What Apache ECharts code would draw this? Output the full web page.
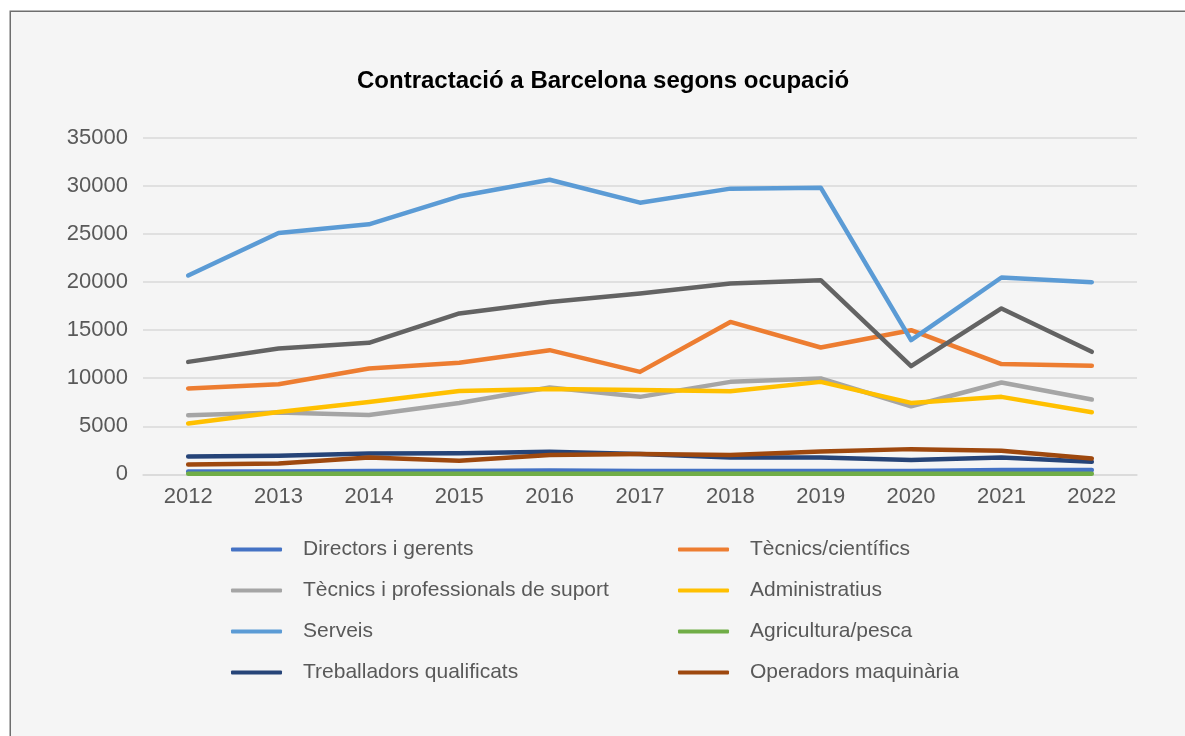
<!DOCTYPE html>
<html>
<head>
<meta charset="utf-8">
<script src="https://cdn.jsdelivr.net/npm/echarts@6/dist/echarts.min.js"></script>
<style>
html,body{margin:0;padding:0;background:#fff;}
#chart{width:1185px;height:736px;}
</style>
</head>
<body>
<div id="chart"></div>
<script>
const years = ['2012','2013','2014','2015','2016','2017','2018','2019','2020','2021','2022'];
const yTicks = [0, 5000, 10000, 15000, 20000, 25000, 30000, 35000];

const directors = [300, 300, 350, 350, 400, 350, 350, 350, 350, 450, 450];
const tecnicsCientifics = [8930, 9380, 11010, 11600, 12920, 10660, 15860, 13200, 15000, 11470, 11290];
const tecnicsSuport = [6150, 6420, 6180, 7430, 9030, 8060, 9620, 9970, 7080, 9550, 7780];
const administratius = [5280, 6490, 7530, 8680, 8890, 8780, 8650, 9620, 7430, 8060, 6460];
const serveis = [20690, 25110, 26020, 28930, 30660, 28270, 29730, 29830, 13960, 20480, 19990];
const agricultura = [60, 60, 60, 60, 70, 60, 60, 60, 60, 60, 60];
const treballadors = [1850, 1930, 2170, 2200, 2340, 2100, 1750, 1750, 1480, 1750, 1300];
const operadors = [1020, 1125, 1750, 1400, 2000, 2100, 2000, 2375, 2620, 2450, 1650];
const elementals = [11700, 13100, 13680, 16740, 17940, 18810, 19850, 20200, 11260, 17260, 12750];

const names = ['Directors i gerents','Tècnics/científics','Tècnics i professionals de suport','Administratius','Serveis','Agricultura/pesca','Treballadors qualificats','Operadors maquinària','Ocupacions elementals'];
const colors = ['#4472C4','#ED7D31','#A5A5A5','#FFC000','#5B9BD5','#70AD47','#264478','#9E480E','#636363'];
const values = [directors, tecnicsCientifics, tecnicsSuport, administratius, serveis, agricultura, treballadors, operadors, elementals];

const font = '"Liberation Sans", Arial, Helvetica, sans-serif';
const chart = echarts.init(document.getElementById('chart'));

const legendCommon = {
  orient: 'vertical',
  top: 537.5,
  padding: 0,
  itemWidth: 51,
  itemHeight: 4,
  itemGap: 17,
  icon: 'roundRect',
  textStyle: {fontFamily: font, fontSize: 21, color: '#595959', lineHeight: 24, padding: [0,0,0,16]}
};

chart.setOption({
  backgroundColor: '#ffffff',
  animation: false,
  graphic: [{
    type: 'rect', left: 9.5, top: 10.5, z: -10,
    shape: {width: 1300, height: 900},
    style: {fill: '#f5f5f5', stroke: '#6e6e6e', lineWidth: 1.5}
  }],
  title: {
    text: 'Contractació a Barcelona segons ocupació',
    left: 357, top: 69, padding: 0,
    textStyle: {fontFamily: font, fontSize: 24, fontWeight: 'bold', color: '#000'}
  },
  legend: [
    Object.assign({left: 231, data: [names[0], names[2], names[4], names[6]]}, legendCommon),
    Object.assign({left: 678, data: [names[1], names[3], names[5], names[7]]}, legendCommon)
  ],
  grid: {left: 143, right: 48, top: 138, bottom: 261.7},
  xAxis: {
    type: 'category',
    data: years,
    boundaryGap: true,
    axisLine: {show: true, lineStyle: {color: '#d9d9d9', width: 1.5}},
    axisTick: {show: false},
    axisLabel: {fontFamily: font, fontSize: 22, color: '#595959', margin: 12}
  },
  yAxis: {
    type: 'value',
    min: yTicks[0], max: yTicks[yTicks.length - 1], interval: yTicks[1] - yTicks[0],
    axisLine: {show: false},
    axisTick: {show: false},
    splitLine: {lineStyle: {color: '#d9d9d9', width: 1.5}},
    axisLabel: {fontFamily: font, fontSize: 22, color: '#595959', margin: 15, formatter: v => String(v)}
  },
  series: names.map((n, i) => ({
    name: n,
    type: 'line',
    data: values[i],
    symbol: 'none',
    color: colors[i],
    lineStyle: {width: 4.5, color: colors[i], cap: 'round', join: 'round'},
    z: 2 + i
  }))
});
</script>
</body>
</html>
